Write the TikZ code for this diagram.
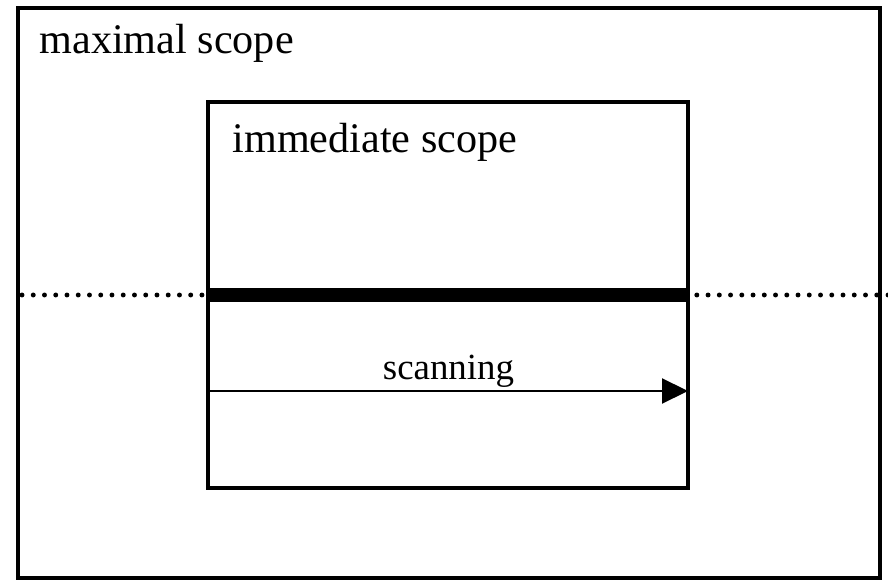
\documentclass[tikz,border=0pt]{standalone}
\usepackage{fontspec}
\setmainfont{Liberation Serif}
\usetikzlibrary{arrows.meta}

\begin{document}
\begin{tikzpicture}[thick]
  \useasboundingbox (0, 0) rectangle (17.76, 11.66);

  % 外側の枠
  \draw[line width = 2pt] (0.36, 0.1) rectangle (17.6, 11.5);
  \node[anchor = base west, font = \fontsize{24}{28}\selectfont] (maxlabel)
	at (0.66, 10.58) {maximal scope};

  % 内側の枠
  \draw[line width = 2pt] (4.16, 1.9) rectangle (13.76, 9.62);
  \node[anchor = base west, font = \fontsize{24}{28}\selectfont] (immlabel)
	at (4.52, 8.6) {immediate scope};

  % 点線
  \coordinate (dotL) at (0.44, 5.76);
  \coordinate (dotR) at (17.76, 5.76);
  \draw[line width = 2.8pt, line cap = round, dash pattern = on 0pt off 6.4pt]
	(dotL) -- (dotR);

  % 太線
  \coordinate (barL) at (4.16, 5.76);
  \coordinate (barR) at (13.76, 5.76);
  \draw[line width = 7.4pt] (barL) -- (barR);

  % 矢印
  \coordinate (scanL) at (4.16, 3.84);
  \coordinate (scanR) at (13.76, 3.84);
  \draw[line width = 1.2pt, -{Triangle[length = 0.52cm, width = 0.5cm]}] (scanL) -- (scanR);
  \node[anchor = base, font = \fontsize{21}{25}\selectfont] (scanlabel)
	at (8.97, 4.08) {scanning};

\end{tikzpicture}
\end{document}
